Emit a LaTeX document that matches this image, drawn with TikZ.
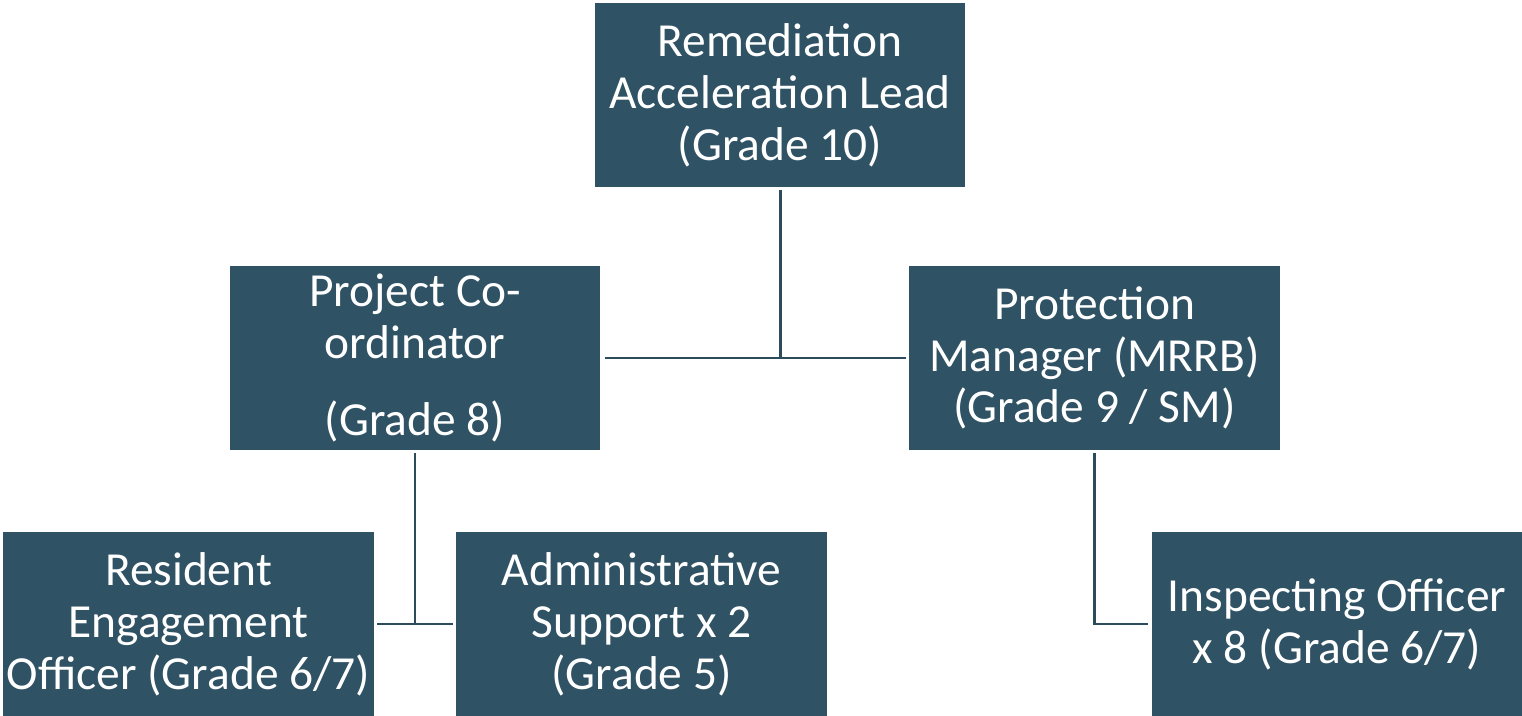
\documentclass[tikz,border=0pt]{standalone}
\usepackage{fontspec}
\setmainfont{Carlito}
\definecolor{boxteal}{HTML}{2F5264}
\definecolor{linkteal}{HTML}{2C4C5C}
\tikzset{
    post/.style={fill=boxteal, text=white, align=center, inner sep=0pt,
        minimum width=7.42cm, minimum height=3.68cm,
        font=\fontsize{27}{29.5}\selectfont},
    link/.style={draw=linkteal, line width=1.7pt}
}
\begin{document}
\begin{tikzpicture}[x=0.02cm, y=-0.02cm]
    \useasboundingbox (0,0) rectangle (1522,716);
    \node[post] (lead) at (780,95) {Remediation\\Acceleration Lead\\(Grade 10)};
    \node[post] (coord) at (415,358) {Project Co-\\ordinator\\[0.5cm](Grade 8)};
    \node[post] (prot) at (1094.5,358) {Protection\\Manager (MRRB)\\(Grade 9 / SM)};
    \node[post] (res) at (188.5,624) {Resident\\Engagement\\Officer (Grade 6/7)};
    \node[post] (admin) at (641.5,624) {Administrative\\Support x 2\\(Grade 5)};
    \node[post] (insp) at (1337,624) {Inspecting Officer\\x 8 (Grade 6/7)};
    % top level
    \draw[link] ([xshift=0.08cm]coord.east) -- ([xshift=-0.06cm]prot.west);
    \draw[link] ([yshift=-0.06cm]lead.south) -- (lead.south |- coord.east);
    % under the co-ordinator
    \draw[link] ([xshift=0.06cm]res.east) -- ([xshift=-0.06cm]admin.west);
    \draw[link] ([yshift=-0.06cm]coord.south) -- (coord.south |- res.east);
    % under the manager
    \draw[link] ([yshift=-0.06cm]prot.south) |- ([xshift=-0.06cm]insp.west);
\end{tikzpicture}
\end{document}
